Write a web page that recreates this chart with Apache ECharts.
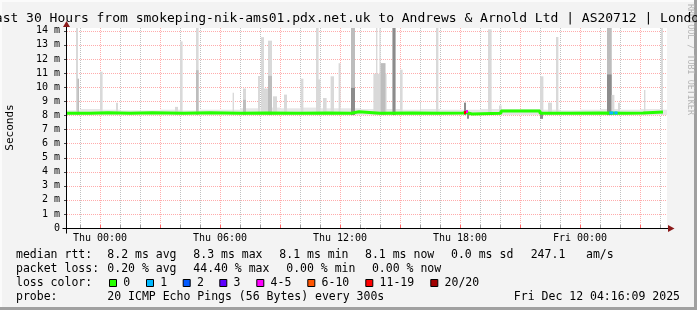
<!DOCTYPE html>
<html><head><meta charset="utf-8">
<script src="https://cdn.jsdelivr.net/npm/echarts@6/dist/echarts.min.js"></script>
<style>html,body{margin:0;padding:0;background:#f3f3f3;overflow:hidden}#c{width:697px;height:310px}</style>
</head><body><div id="c"></div>
<script>
// ---------------- data ----------------
const titleText = 'Last 30 Hours from smokeping-nik-ams01.pdx.net.uk to Andrews & Arnold Ltd | AS20712 | London';
const yAxisName = 'Seconds';
const xMin = -1.65, xMax = 28.35;          // hours relative to Thu 00:00
const yMax = 14.2;                           // ms
const labelHours = [0, 6, 12, 18, 24];
const tickLabels = ['Thu 00:00', 'Thu 06:00', 'Thu 12:00', 'Thu 18:00', 'Fri 00:00'];
const majorHours = [0, 3, 6, 9, 12, 15, 18, 21, 24, 27];
const minorHours = [-1, 1, 2, 4, 5, 7, 8, 10, 11, 13, 14, 16, 17, 19, 20, 22, 23, 25, 26, 28];
const yLevels = [0, 1, 2, 3, 4, 5, 6, 7, 8, 9, 10, 11, 12, 13, 14];

// background smoke, hourly blocks
const baseHours = [-2,-1,0,1,2,3,4,5,6,7,8,9,10,11,12,13,14,15,16,17,18,19,20,21,22,23,24,25,26,27,28];
const baseTop   = [8.35,8.45,8.4,8.35,8.35,8.4,8.35,8.4,8.4,8.5,8.55,8.5,8.55,8.5,8.5,8.45,8.45,8.4,8.45,8.4,8.4,8.45,8.45,8.45,8.4,8.35,8.4,8.45,8.4,8.45,8.4];
const smokeLow = 8.02;

// smoke spikes: start/end hour, light top, medium top, dark top (0 = none)
const spikeFrom = [-1.2,-1.13, 0.0, 0.8, 3.75, 4.0, 4.8, 6.63, 7.15, 7.9, 8.05, 8.2, 8.4, 8.65, 9.2, 10.03, 10.8, 10.87, 11.15, 11.53, 11.93, 12.55, 13.67, 13.8, 13.97, 14.03, 14.63, 15.0, 16.0, 16.8, 18.2, 19.4, 19.95, 22.0, 22.4, 22.8, 25.35, 25.58, 25.9, 27.2, 28.05];
const spikeTo   = [-1.1,-1.05, 0.13, 0.9, 3.9, 4.13, 4.93, 6.7, 7.3, 8.0, 8.2, 8.4, 8.6, 8.85, 9.35, 10.17, 10.93, 11.03, 11.33, 11.7, 12.03, 12.75, 14.33, 13.87, 14.03, 14.27, 14.77, 15.13, 16.05, 16.92, 18.3, 19.58, 20.08, 22.17, 22.6, 22.92, 25.58, 25.72, 26.0, 27.27, 28.15];
const spikeTop  = [14.2, 10.6, 11.1, 8.9, 8.6, 13.25, 14.2, 9.6, 9.9, 10.8, 13.55, 9.9, 13.3, 9.35, 9.47, 10.6, 14.2, 10.55, 9.23, 10.77, 11.7, 14.2, 10.95, 14.2, 14.2, 11.7, 14.2, 11.24, 8.9, 14.2, 8.9, 14.1, 8.7, 10.77, 8.9, 13.56, 14.2, 9.45, 8.9, 9.8, 14.2];
const spikeMid  = [0, 10.6, 0, 0, 0, 0, 11.2, 0, 9.1, 0, 0, 0, 10.8, 0, 0, 0, 0, 0, 0, 0, 0, 14.2, 0, 0, 0, 11.7, 14.2, 0, 0, 0, 8.9, 0, 0, 0, 0, 0, 14.2, 0, 0, 0, 0];
const spikeDark = [0, 0, 0, 0, 0, 0, 0, 0, 0, 0, 0, 0, 0, 0, 0, 0, 0, 0, 0, 0, 0, 9.95, 0, 0, 0, 0, 14.2, 0, 0, 0, 8.9, 0, 0, 0, 0, 0, 10.9, 0, 0, 0, 0];
// smoke below the median
const lowFrom = [18.35, 22.0];
const lowTo   = [18.45, 22.15];
const lowBottom = [7.75, 7.75];

// median rtt (step line)
const medTimes  = [-1.65,-0.5, 0.4, 1.5, 2.6, 4.2, 5.5, 7.0, 8.3, 9.9, 11.4, 12.55, 12.95, 14.0, 15.6, 17.0, 18.15, 18.3, 18.4, 18.6, 20.05, 22.0, 23.5, 25.0, 26.3, 27.15, 28.15];
const medValues = [8.15, 8.18, 8.15, 8.18, 8.15, 8.18, 8.15, 8.17, 8.15, 8.17, 8.15, 8.25, 8.15, 8.17, 8.15, 8.17, 8.2, 8.27, 8.1, 8.15, 8.31, 8.15, 8.17, 8.15, 8.17, 8.24, 8.24];
// packet-loss coloured parts of the median
const lossFrom  = [18.2, 18.3, 25.47, 25.72];
const lossTo    = [18.3, 18.4, 25.67, 25.88];
const lossValue = [8.2, 8.27, 8.17, 8.17];
const lossLevel = [6, 4, 1, 1];

const lossLabels = ['0', '1', '2', '3', '4-5', '6-10', '11-19', '20/20'];
const lossColors = ['#26ff00', '#00b8ff', '#0059ff', '#5e00ff', '#ff00ff', '#ff5500', '#ff0000', '#a10000'];
const rttStats  = ['8.2 ms avg', '8.3 ms max', '8.1 ms min', '8.1 ms now', '0.0 ms sd', '247.1', 'am/s'];
const lossStats = ['0.20 % avg', '44.40 % max', ' 0.00 % min', ' 0.00 % now'];
const rowLabels = ['median rtt:', 'packet loss:', 'loss color:', 'probe:'];
const probeText = '20 ICMP Echo Pings (56 Bytes) every 300s';
const dateText  = 'Fri Dec 12 04:16:09 2025';
const watermark = 'RRDTOOL / TOBI OETIKER';

// ---------------- chart ----------------
const MONO = '"DejaVu Sans Mono", monospace';
const smokeShades = ['#d9d9d9', '#bdbdbd', '#8c8c8c', '#e6e6e6'];
const chart = echarts.init(document.getElementById('c'), null, {renderer: 'canvas'});

const smokeData = [];
baseHours.forEach((h, i) => smokeData.push([h, h + 1, smokeLow, baseTop[i], 3]));
spikeFrom.forEach((f, i) => {
  smokeData.push([f, spikeTo[i], smokeLow, spikeTop[i], 0]);
  if (spikeMid[i]) smokeData.push([f, spikeTo[i], smokeLow, spikeMid[i], 1]);
  if (spikeDark[i]) smokeData.push([f, spikeTo[i], smokeLow, spikeDark[i], 2]);
});
lowFrom.forEach((f, i) => smokeData.push([f, lowTo[i], lowBottom[i], 8.15, 2]));

const gridData = [];
minorHours.forEach(h => gridData.push([0, h]));
majorHours.forEach(h => gridData.push([1, h]));
yLevels.forEach(v => { if (v > 0) gridData.push([2, v]); });

const medData = medTimes.map((t, i) => [t, medValues[i]]);
const lossData = lossFrom.map((f, i) => [f, lossTo[i], lossValue[i], lossLevel[i]]);

const gridMinor = 'rgba(140,140,140,0.55)';
const gridMajor = 'rgba(255,70,70,0.45)';

chart.setOption({
  animation: false,
  backgroundColor: '#f3f3f3',
  grid: {left: 67, top: 28, width: 600, height: 200, show: true, backgroundColor: '#ffffff', borderWidth: 0},
  xAxis: {
    type: 'value', min: xMin, max: xMax,
    axisLine: {show: false}, axisTick: {show: false}, splitLine: {show: false},
    axisLabel: {customValues: labelHours, formatter: v => tickLabels[labelHours.indexOf(v)],
      fontFamily: MONO, fontSize: 10, color: '#000', margin: 5}
  },
  yAxis: {
    type: 'value', min: 0, max: yMax,
    axisLine: {show: false}, splitLine: {show: false},
    axisTick: {show: false},
    axisLabel: {customValues: yLevels, formatter: v => v === 0 ? '0' : v + ' m',
      fontFamily: MONO, fontSize: 10, color: '#000', margin: 7}
  },
  series: [
    {
      type: 'custom', z: 1, silent: true, clip: false, data: gridData,
      encode: {x: 1},
      renderItem: (params, api) => {
        const kind = api.value(0), v = api.value(1);
        if (kind < 2) {
          const top = api.coord([v, yMax]), bot = api.coord([v, 0]);
          const x = Math.round(bot[0]) + 0.5;
          const col = kind === 1 ? gridMajor : gridMinor;
          return {type: 'group', children: [
            {type: 'line', shape: {x1: x, y1: top[1], x2: x, y2: bot[1]}, style: {stroke: col, lineWidth: 1, lineDash: [1, 1]}},
            {type: 'line', shape: {x1: x, y1: bot[1] - 3, x2: x, y2: bot[1]}, style: {stroke: kind === 1 ? '#ff6060' : '#999', lineWidth: 1}}
          ]};
        }
        const a = api.coord([xMin, v]), b = api.coord([xMax, v]);
        const y = Math.round(a[1]) + 0.5;
        return {type: 'group', children: [
          {type: 'line', shape: {x1: a[0], y1: y, x2: b[0], y2: y}, style: {stroke: gridMajor, lineWidth: 1, lineDash: [1, 1]}},
          {type: 'line', shape: {x1: a[0] - 3, y1: y, x2: a[0], y2: y}, style: {stroke: '#444', lineWidth: 1}}
        ]};
      }
    },
    {
      type: 'custom', z: 2, silent: true, clip: true, data: smokeData,
      encode: {x: [0, 1], y: [2, 3]},
      renderItem: (params, api) => {
        const a = api.coord([api.value(0), api.value(3)]);
        const b = api.coord([api.value(1), api.value(2)]);
        return {type: 'rect', shape: {x: a[0], y: a[1], width: b[0] - a[0], height: b[1] - a[1]},
          style: {fill: smokeShades[api.value(4)]}};
      }
    },
    {
      type: 'line', z: 3, step: 'end', data: medData, symbol: 'none', silent: true,
      lineStyle: {color: lossColors[0], width: 3}
    },
    {
      type: 'custom', z: 4, silent: true, clip: true, data: lossData,
      encode: {x: [0, 1], y: 2},
      renderItem: (params, api) => {
        const a = api.coord([api.value(0), api.value(2)]);
        const b = api.coord([api.value(1), api.value(2)]);
        return {type: 'rect', shape: {x: a[0], y: a[1] - 1.5, width: b[0] - a[0], height: 3},
          style: {fill: lossColors[api.value(3)]}};
      }
    }
  ]
});

// ------------- decorations & legend text -------------
const o = chart.convertToPixel({gridIndex: 0}, [xMin, 0]);
const e = chart.convertToPixel({gridIndex: 0}, [xMax, yMax]);
const ax = Math.round(o[0]) - 0.5, ay = Math.round(o[1]) + 0.5;
const arrowCol = '#8b1a1a';
const g = [];
// frame
g.push({type: 'rect', shape: {x: 0, y: 0, width: 697, height: 2}, style: {fill: '#fbfbfb'}, z: 0});
g.push({type: 'rect', shape: {x: 0, y: 0, width: 2, height: 310}, style: {fill: '#fbfbfb'}, z: 0});
g.push({type: 'rect', shape: {x: 0, y: 307, width: 697, height: 3}, style: {fill: '#a0a0a0'}, z: 0});
g.push({type: 'rect', shape: {x: 694, y: 0, width: 3, height: 310}, style: {fill: '#a0a0a0'}, z: 0});
// watermark
g.push({type: 'text', x: 690, y: 4, rotation: -Math.PI / 2, z: 1,
  style: {text: watermark, font: '8.4px ' + MONO, fill: '#b4b4b4', align: 'left', verticalAlign: 'middle'}});
// title
g.push({type: 'text', x: 347, y: 19, z: 5,
  style: {text: titleText, font: '13px ' + MONO, fill: '#000', align: 'center', verticalAlign: 'middle'}});
// y axis name
g.push({type: 'text', x: 10.5, y: 127.5, rotation: Math.PI / 2, z: 5,
  style: {text: yAxisName, font: '11px ' + MONO, fill: '#000', align: 'center', verticalAlign: 'middle'}});
// axes
g.push({type: 'line', z: 20, shape: {x1: ax - 4, y1: ay, x2: e[0] + 1, y2: ay}, style: {stroke: '#000', lineWidth: 1}});
g.push({type: 'line', z: 20, shape: {x1: ax, y1: ay + 5, x2: ax, y2: e[1] - 1}, style: {stroke: '#000', lineWidth: 1}});
g.push({type: 'polygon', z: 21, shape: {points: [[e[0] + 1, ay - 3.5], [e[0] + 7.5, ay], [e[0] + 1, ay + 3.5]]}, style: {fill: arrowCol}});
g.push({type: 'polygon', z: 21, shape: {points: [[ax - 3.5, e[1] - 1], [ax, e[1] - 7], [ax + 3.5, e[1] - 1]]}, style: {fill: arrowCol}});

// legend rows
const rowY = [254.8, 268.8, 282.8, 296.8];
const LF = '11.5px ' + MONO;
const txt = (s, x, y, align) => g.push({type: 'text', x: x, y: y, z: 5,
  style: {text: s, font: LF, fill: '#000', align: align || 'left', verticalAlign: 'middle'}});
rowLabels.forEach((s, i) => txt(s, 16, rowY[i]));
const rttX = [107.3, 193.3, 279.3, 365, 451, 530.7, 586];
rttStats.forEach((s, i) => txt(s, rttX[i], rowY[0]));
const lossX = [107.3, 193.3, 279.3, 365];
lossStats.forEach((s, i) => txt(s, lossX[i], rowY[1]));
const boxX = [109, 146, 182.7, 219.3, 256.3, 307.3, 365.3, 430.3];
lossLabels.forEach((s, i) => {
  g.push({type: 'rect', z: 5, shape: {x: boxX[i] + 0.5, y: 279.5, width: 7, height: 7},
    style: {fill: lossColors[i], stroke: '#000', lineWidth: 1}});
  txt(s, boxX[i] + 14.3, rowY[2]);
});
txt(probeText, 107.3, rowY[3]);
txt(dateText, 680, rowY[3], 'right');

chart.setOption({graphic: {elements: g}});
</script></body></html>
